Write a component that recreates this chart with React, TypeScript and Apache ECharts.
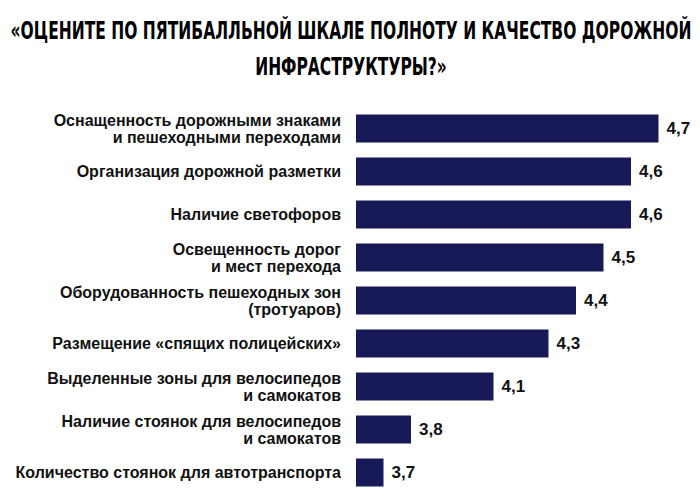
import React, { useEffect, useRef } from "react";
import * as echarts from "echarts";

const titleLines = [
  "«ОЦЕНИТЕ ПО ПЯТИБАЛЛЬНОЙ ШКАЛЕ ПОЛНОТУ И КАЧЕСТВО ДОРОЖНОЙ",
  "ИНФРАСТРУКТУРЫ?»",
];

const categories = [
  "Оснащенность дорожными знаками\nи пешеходными переходами",
  "Организация дорожной разметки",
  "Наличие светофоров",
  "Освещенность дорог\nи мест перехода",
  "Оборудованность пешеходных зон\n(тротуаров)",
  "Размещение «спящих полицейских»",
  "Выделенные зоны для велосипедов\nи самокатов",
  "Наличие стоянок для велосипедов\nи самокатов",
  "Количество стоянок для автотранспорта",
];

const values = [4.7, 4.6, 4.6, 4.5, 4.4, 4.3, 4.1, 3.8, 3.7];

const BAR = "#171a57";

export default function App() {
  const ref = useRef<HTMLDivElement>(null);
  useEffect(() => {
    if (!ref.current) return;
    const chart = echarts.init(ref.current, null, { renderer: "svg" });
    chart.setOption({
      animation: false,
      backgroundColor: "#ffffff",
      graphic: titleLines.map((t, i) => ({
        type: "text",
        x: 351,
        y: 30 + i * 36,
        scaleX: 0.69,
        style: {
          text: t,
          textAlign: "center",
          textVerticalAlign: "middle",
          fontFamily: "DejaVu Sans Condensed",
          fontWeight: "bold",
          fontSize: 25,
          fill: "#000000",
        },
      })),
      grid: { left: 356, right: 14, top: 107, bottom: -8, containLabel: false },
      xAxis: {
        type: "value",
        min: 3.6,
        max: 4.8,
        show: false,
      },
      yAxis: {
        type: "category",
        data: categories,
        inverse: true,
        axisLine: { show: false },
        axisTick: { show: false },
        axisLabel: {
          margin: 15,
          color: "#111111",
          fontFamily: "Liberation Sans",
          fontWeight: "bold",
          fontSize: 16,
          lineHeight: 17,
          align: "right",
        },
      },
      series: [
        {
          type: "bar",
          data: values,
          barWidth: 28,
          itemStyle: { color: BAR },
          label: {
            show: true,
            position: "right",
            distance: 8,
            color: "#111111",
            fontFamily: "Liberation Sans",
            fontWeight: "bold",
            fontSize: 17,
            formatter: (p: any) => String(p.value).replace(".", ","),
          },
        },
      ],
    });
    return () => chart.dispose();
  }, []);
  return (
    <div
      ref={ref}
      style={{ position: "absolute", left: 0, top: 0, width: 700, height: 494 }}
    />
  );
}
